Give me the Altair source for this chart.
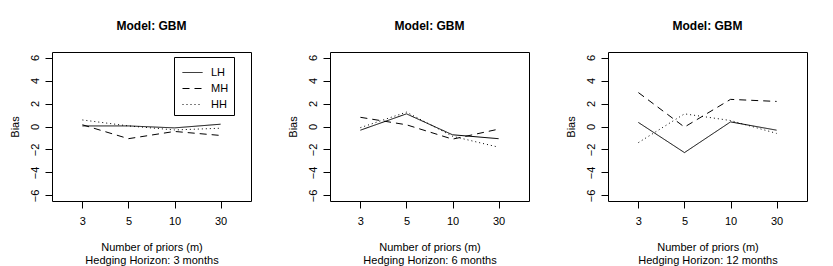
import altair as alt
import pandas as pd

priors = ["3", "5", "10", "30"]
series = ["LH", "MH", "HH"]
horizons = ["Hedging Horizon: 3 months", "Hedging Horizon: 6 months", "Hedging Horizon: 12 months"]

# bias values per panel (order follows priors)
p1_LH = [0.05, 0.05, -0.12, 0.2]
p1_MH = [0.15, -1.06, -0.43, -0.78]
p1_HH = [0.57, 0.05, -0.3, -0.15]

p2_LH = [-0.32, 1.1, -0.72, -1.06]
p2_MH = [0.8, 0.15, -1.1, -0.23]
p2_HH = [-0.1, 1.25, -0.85, -1.8]

p3_LH = [0.35, -2.27, 0.4, -0.32]
p3_MH = [2.95, -0.05, 2.36, 2.18]
p3_HH = [-1.4, 1.1, 0.52, -0.6]

panels = [
    {"LH": p1_LH, "MH": p1_MH, "HH": p1_HH},
    {"LH": p2_LH, "MH": p2_MH, "HH": p2_HH},
    {"LH": p3_LH, "MH": p3_MH, "HH": p3_HH},
]

FONT = "Liberation Sans"
dash_range = [[1, 0], [7, 5], [1, 3]]


def panel(i):
    rows = []
    for s in series:
        for m, v in zip(priors, panels[i][s]):
            rows.append({"m": m, "bias": v, "series": s})
    df = pd.DataFrame(rows)
    if i == 0:
        legend = alt.Legend(
            title=None,
            orient="none",
            legendX=122,
            legendY=5,
            strokeColor="black",
            padding=5,
            cornerRadius=0,
            symbolType="stroke",
            symbolSize=400,
            symbolOffset=3,
            symbolStrokeColor="black",
            symbolStrokeWidth=1,
            labelFont=FONT,
            labelFontSize=11,
            labelColor="black",
            labelOffset=8,
            rowPadding=-6,
        )
    else:
        legend = None
    chart = alt.Chart(df).mark_line(color="black", strokeWidth=1).encode(
        x=alt.X(
            "m:O",
            sort=priors,
            scale=alt.Scale(type="point", padding=0.66),
            axis=alt.Axis(
                title=["Number of priors (m)", horizons[i]],
                labelAngle=0,
                domain=False,
                tickSize=7,
                tickColor="black",
                labelPadding=7,
                titlePadding=15,
                titleLineHeight=13,
            ),
        ),
        y=alt.Y(
            "bias:Q",
            scale=alt.Scale(domain=[-6.48, 6.48], nice=False, zero=False),
            axis=alt.Axis(
                title="Bias",
                values=[-6, -4, -2, 0, 2, 4, 6],
                labelAngle=-90,
                labelAlign="center",
                labelBaseline="alphabetic",
                domain=False,
                grid=False,
                tickSize=7,
                tickColor="black",
                labelPadding=7,
                titlePadding=9,
            ),
        ),
        strokeDash=alt.StrokeDash(
            "series:N",
            sort=series,
            scale=alt.Scale(domain=series, range=dash_range),
            legend=legend,
        ),
        detail="series:N",
    ).properties(
        width=199,
        height=149,
        title=alt.Title("Model: GBM", fontSize=12, fontWeight="bold", font=FONT, color="black", offset=19),
    )
    return chart


chart = alt.hconcat(panel(0), panel(1), panel(2), spacing=34).resolve_scale(
    strokeDash="independent"
).resolve_legend(strokeDash="independent").configure_view(
    stroke="black", strokeWidth=1
).configure_axis(
    labelFont=FONT,
    labelFontSize=11,
    labelColor="black",
    titleFont=FONT,
    titleFontSize=11,
    titleFontWeight="normal",
    titleColor="black",
    grid=False,
).properties(
    padding={"left": 0, "top": 11, "right": 0, "bottom": 0},
    background="white",
)

chart.save("out.html", embed_options={"renderer": "svg", "actions": False})
